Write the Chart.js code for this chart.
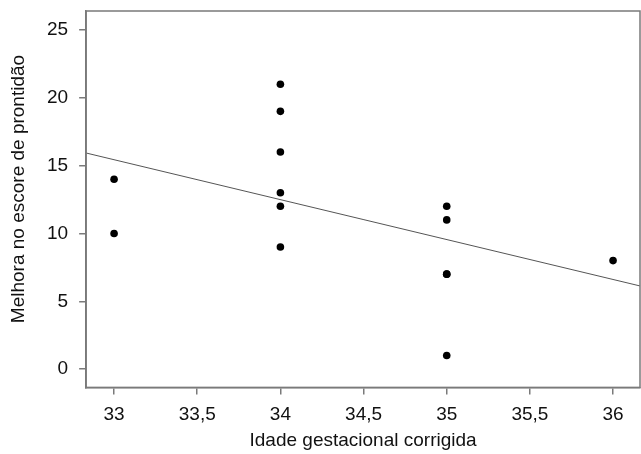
<!DOCTYPE html>
<html>
<head>
<meta charset="utf-8">
<script src="https://cdn.jsdelivr.net/npm/chart.js@4/dist/chart.umd.min.js"></script>
<style>
  html, body { margin: 0; padding: 0; background: #fff; }
  #wrap { width: 641px; height: 454px; }
</style>
</head>
<body>
<div id="wrap"><canvas id="scatter-chart" width="641" height="454"></canvas></div>
<script>
// values
const gestAge = [33, 33, 34, 34, 34, 34, 34, 34, 35, 35, 35, 35, 35, 36];
const scoreGain = [14, 10, 21, 19, 16, 13, 12, 9, 12, 11, 7, 7, 1, 8];

// fitted line, ends at the plot edges
const fitX = [32.832, 36.162];
const fitY = [15.93, 6.13];

const xTicks = [33, 33.5, 34, 34.5, 35, 35.5, 36];
const yTicks = [0, 5, 10, 15, 20, 25];

const xTitle = 'Idade gestacional corrigida';
const yTitle = 'Melhora no escore de prontidão';

const fontFamily = '"Liberation Sans", Arial, sans-serif';
const textColor = '#111111';
const axisColor = '#7a7a7a';

// frame round the plot + rotated y title
const framePlugin = {
  id: 'frame',
  afterDraw(chart) {
    const { ctx, chartArea } = chart;
    ctx.save();
    ctx.strokeStyle = axisColor;
    ctx.lineWidth = 1.5;
    ctx.strokeRect(chartArea.left, chartArea.top, chartArea.right - chartArea.left, chartArea.bottom - chartArea.top);

    ctx.translate(19, 189);
    ctx.rotate(-Math.PI / 2);
    ctx.fillStyle = textColor;
    ctx.font = '19px ' + fontFamily;
    ctx.textAlign = 'center';
    ctx.textBaseline = 'middle';
    ctx.fillText(yTitle, 0, 0);
    ctx.restore();
  }
};

const toComma = v => String(v).replace('.', ',');

// don't let the tick labels push the plot area inwards
const noEdgePadding = scale => {
  scale.paddingTop = 0;
  scale.paddingBottom = 0;
  scale.paddingLeft = 0;
  scale.paddingRight = 0;
};

const ctx = document.getElementById('scatter-chart').getContext('2d');
new Chart(ctx, {
  type: 'scatter',
  data: {
    datasets: [
      {
        label: 'Fit',
        data: fitX.map((x, i) => ({ x: x, y: fitY[i] })),
        showLine: true,
        borderColor: '#555555',
        borderWidth: 1,
        pointRadius: 0,
        order: 2,
      },
      {
        label: 'Pacientes',
        data: gestAge.map((x, i) => ({ x: x, y: scoreGain[i] })),
        backgroundColor: '#000000',
        borderColor: '#000000',
        pointRadius: 3.8,
        pointBorderWidth: 0,
        order: 1,
      },
    ],
  },
  options: {
    responsive: false,
    animation: false,
    devicePixelRatio: 1,
    layout: { autoPadding: false, padding: { left: 36, right: 1, top: 11, bottom: 2 } },
    plugins: {
      legend: { display: false },
      tooltip: { enabled: false },
    },
    scales: {
      x: {
        type: 'linear',
        min: 32.832,
        max: 36.162,
        afterBuildTicks: axis => { axis.ticks = xTicks.map(v => ({ value: v })); },
        afterFit: noEdgePadding,
        ticks: {
          callback: v => toComma(v),
          color: textColor,
          font: { family: fontFamily, size: 19 },
          padding: 9,
          maxRotation: 0,
        },
        grid: { drawOnChartArea: false, tickLength: 7, color: axisColor, lineWidth: 1.5 },
        border: { display: true, color: axisColor, width: 1.5 },
        title: {
          display: true,
          text: xTitle,
          color: textColor,
          font: { family: fontFamily, size: 19 },
          padding: { top: -6, bottom: 0 },
        },
      },
      y: {
        type: 'linear',
        min: -1.35,
        max: 26.4,
        afterBuildTicks: axis => { axis.ticks = yTicks.map(v => ({ value: v })); },
        afterFit: noEdgePadding,
        ticks: {
          color: textColor,
          font: { family: fontFamily, size: 19 },
          padding: 11,
        },
        grid: { drawOnChartArea: false, tickLength: 7, color: axisColor, lineWidth: 1.5 },
        border: { display: true, color: axisColor, width: 1.5 },
      },
    },
  },
  plugins: [framePlugin],
});
</script>
</body>
</html>
